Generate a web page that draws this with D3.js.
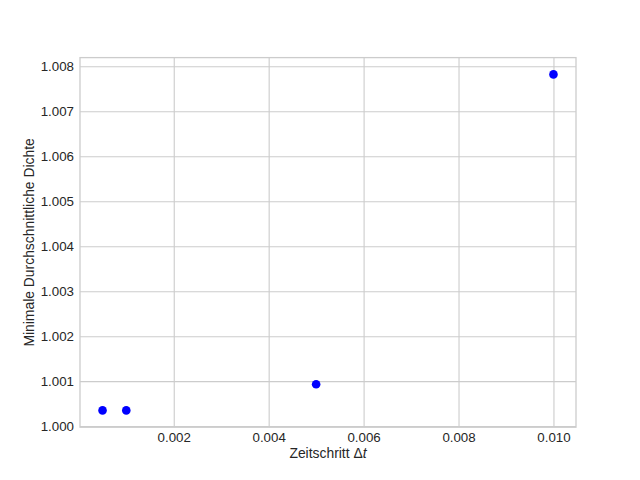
<!DOCTYPE html>
<html>
<head>
<meta charset="utf-8">
<script src="https://cdn.jsdelivr.net/npm/d3@7"></script>
<style>
  body { margin: 0; background: #fff; }
  text { font-family: "Liberation Sans", Arial, sans-serif; fill: #262626; }
</style>
</head>
<body>
<div id="chart"></div>
<script>
// Zeitschritt und minimale Dichte
var timeSteps = [0.0005, 0.001, 0.005, 0.01];
var minDensity = [1.00035, 1.00035, 1.00093, 1.00782];
var xTicks = [0.002, 0.004, 0.006, 0.008, 0.010];
var yTicks = [1.000, 1.001, 1.002, 1.003, 1.004, 1.005, 1.006, 1.007, 1.008];

var width = 640, height = 480;
var margin = {left: 80, right: 64, top: 57.6, bottom: 52.8};

var svg = d3.select("#chart").append("svg")
    .attr("width", width)
    .attr("height", height);

// matplotlib style 5% margins
var xr = d3.extent(timeSteps), yr = d3.extent(minDensity);
var xPad = (xr[1] - xr[0]) * 0.05, yPad = (yr[1] - yr[0]) * 0.05;

var x = d3.scaleLinear()
    .domain([xr[0] - xPad, xr[1] + xPad])
    .range([margin.left, width - margin.right]);

var y = d3.scaleLinear()
    .domain([yr[0] - yPad, yr[1] + yPad])
    .range([height - margin.bottom, margin.top]);

var plotW = width - margin.left - margin.right,
    plotH = height - margin.top - margin.bottom;

// grid
svg.append("g")
    .attr("transform", "translate(0," + (height - margin.bottom) + ")")
    .call(d3.axisBottom(x).tickValues(xTicks).tickSize(-plotH).tickFormat(d3.format(".3f")).tickPadding(5.5))
    .call(function(g) {
        g.select(".domain").remove();
        g.selectAll("line").attr("stroke", "#cccccc").attr("stroke-width", 1.1);
        g.selectAll("text").attr("font-size", 13.3).attr("fill", "#262626")
            .style("font-family", '"Liberation Sans", Arial, sans-serif');
    });

svg.append("g")
    .attr("transform", "translate(" + margin.left + ",0)")
    .call(d3.axisLeft(y).tickValues(yTicks).tickSize(-plotW).tickFormat(d3.format(".3f")).tickPadding(6))
    .call(function(g) {
        g.select(".domain").remove();
        g.selectAll("line").attr("stroke", "#cccccc").attr("stroke-width", 1.1);
        g.selectAll("text").attr("font-size", 13.3).attr("fill", "#262626")
            .style("font-family", '"Liberation Sans", Arial, sans-serif');
    });

// frame
svg.append("rect")
    .attr("x", margin.left)
    .attr("y", margin.top)
    .attr("width", plotW)
    .attr("height", plotH)
    .attr("fill", "none")
    .attr("stroke", "#cccccc")
    .attr("stroke-width", 1.3);

// points
svg.append("g").selectAll("circle")
    .data(timeSteps)
    .enter().append("circle")
    .attr("cx", function(d) { return x(d); })
    .attr("cy", function(d, i) { return y(minDensity[i]); })
    .attr("r", 4.3)
    .attr("fill", "#0000ff");

// axis labels
var xl = svg.append("text")
    .attr("x", margin.left + plotW / 2)
    .attr("y", 458)
    .attr("text-anchor", "middle")
    .attr("font-size", 13.9);
xl.append("tspan").text("Zeitschritt \u0394");
xl.append("tspan").attr("font-style", "italic").text("t");

svg.append("text")
    .attr("transform", "translate(33.5," + (margin.top + plotH / 2) + ") rotate(-90)")
    .attr("text-anchor", "middle")
    .attr("font-size", 13.9)
    .text("Minimale Durchschnittliche Dichte");
</script>
</body>
</html>
